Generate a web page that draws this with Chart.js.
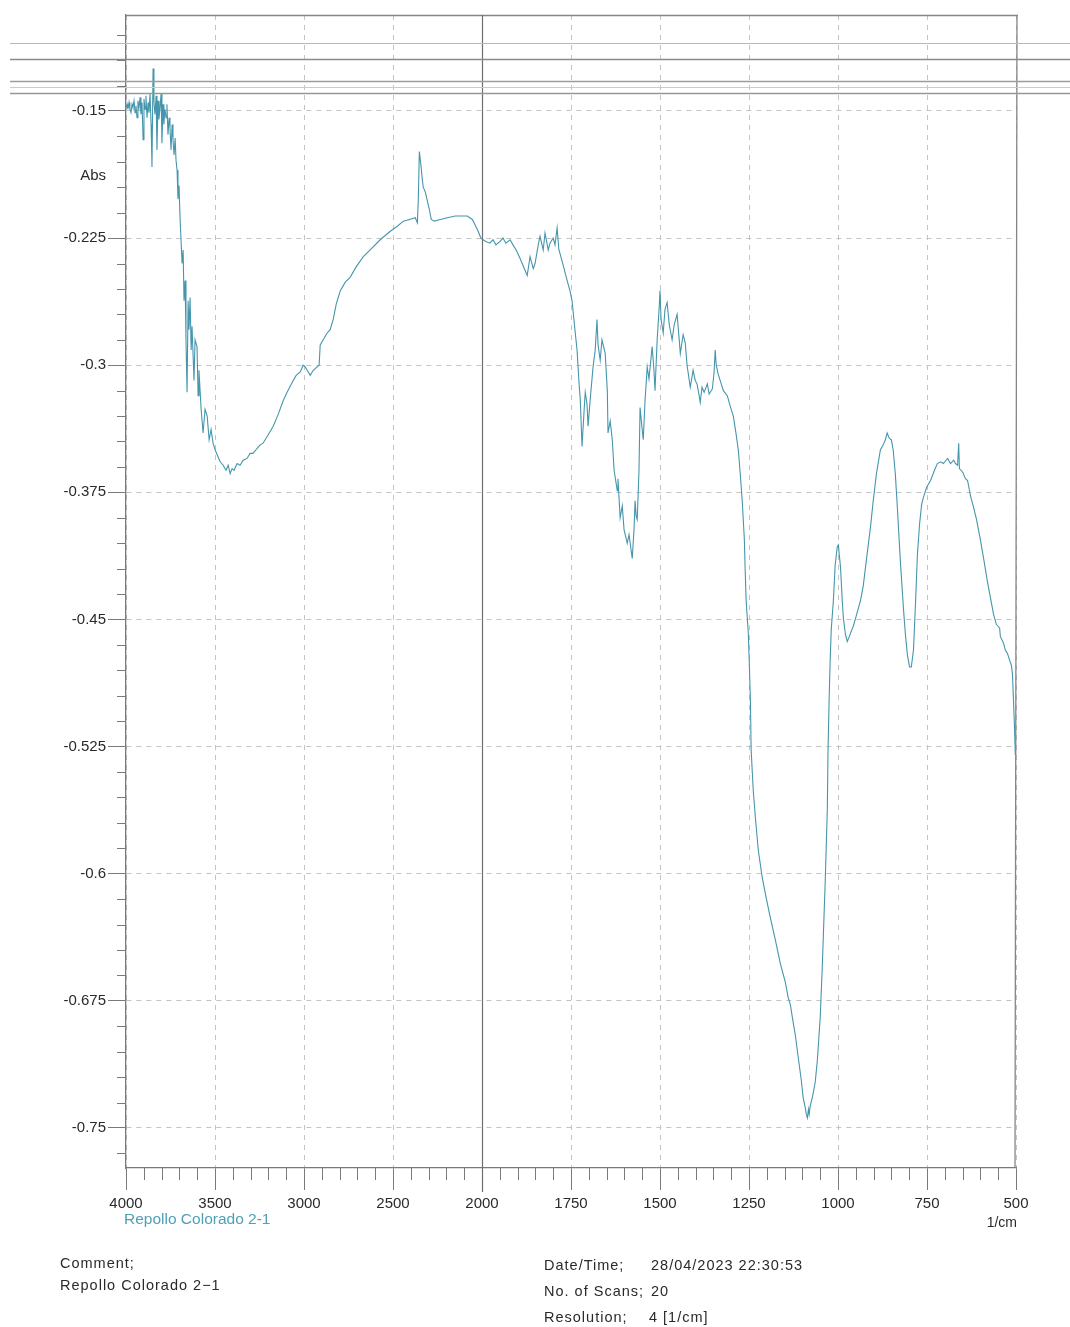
<!DOCTYPE html>
<html>
<head>
<meta charset="utf-8">
<title>Repollo Colorado 2-1</title>
<script src="https://cdn.jsdelivr.net/npm/chart.js@4.4.1/dist/chart.umd.min.js"></script>
<style>
  html, body { margin: 0; padding: 0; background: #ffffff; }
  #wrap { position: relative; width: 1070px; height: 1327px; }
  canvas { display: block; }
</style>
</head>
<body>
<div id="wrap"><canvas id="spec" width="1070" height="1327"></canvas></div>
<script>
// Wavenumbers (1/cm) of the recorded spectrum, high to low
const wavenumbers = [
  3998, 3994, 3989, 3983, 3978, 3972, 3966, 3961, 3955, 3949, 3944, 3938, 3933, 3927, 3921, 3916,
  3910, 3904, 3899, 3893, 3888, 3882, 3876, 3871, 3865, 3859, 3854, 3848, 3843, 3837, 3831, 3826,
  3820, 3815, 3809, 3803, 3798, 3792, 3787, 3781, 3775, 3770, 3764, 3758, 3753, 3747, 3741, 3736,
  3730, 3724, 3719,
  3713, 3708, 3702, 3696, 3691, 3685, 3679, 3674, 3668, 3663, 3657, 3651, 3646, 3640, 3634, 3629,
  3618, 3612, 3601, 3595, 3590, 3578, 3567, 3556, 3544, 3533, 3522, 3511, 3499, 3483, 3471, 3454,
  3438, 3426, 3415, 3404, 3393, 3376, 3359, 3342, 3320, 3303, 3286, 3263, 3246, 3230, 3201, 3173,
  3145, 3117, 3095, 3066, 3044, 3021, 3005, 2993, 2982, 2965, 2948, 2926, 2915, 2909, 2892, 2870,
  2853, 2836, 2819, 2796, 2768, 2740, 2707, 2667, 2628, 2572, 2515, 2476, 2442, 2408, 2375, 2363,
  2358, 2352, 2341, 2335, 2330, 2318, 2307, 2296, 2285, 2268, 2234, 2195, 2150, 2105, 2083, 2054,
  2026, 2006, 1997, 1989, 1978, 1969, 1961, 1949, 1941, 1933, 1921, 1913, 1904, 1893, 1885, 1873,
  1865, 1856, 1851, 1842, 1837, 1828, 1823, 1814, 1809, 1800, 1795, 1789, 1784, 1781, 1772, 1761,
  1753, 1747, 1739, 1733, 1727, 1724, 1719, 1713, 1710, 1705, 1702, 1696, 1688, 1682, 1677, 1674,
  1668, 1663, 1654, 1648, 1646, 1640, 1634, 1629, 1620, 1618, 1612, 1606, 1601, 1592, 1587, 1578,
  1573, 1570, 1567, 1564, 1559, 1556, 1550, 1547, 1542, 1536, 1531, 1522, 1517, 1514, 1508, 1502,
  1500, 1497, 1491, 1486, 1480, 1474, 1466, 1460, 1452, 1446, 1443, 1435, 1429, 1424, 1415, 1407,
  1401, 1396, 1390, 1387, 1382, 1376, 1367, 1362, 1353, 1348, 1345, 1342, 1337, 1328, 1322, 1311,
  1303, 1294, 1286, 1280, 1275, 1269, 1263, 1261, 1258, 1252, 1249, 1246, 1244, 1238, 1232, 1224,
  1213, 1202, 1190, 1176, 1162, 1148, 1140, 1134, 1128, 1120, 1112, 1103, 1098, 1092, 1089, 1086,
  1083, 1081, 1078, 1072, 1064, 1058, 1050, 1044, 1036, 1030, 1028, 1025, 1022, 1019, 1013, 1008,
  1002, 999, 993, 988, 985, 979, 974, 968, 963, 957, 949, 937, 929, 918, 909, 901,
  892, 881, 873, 867, 862, 856, 850, 845, 839, 833, 825, 816, 811, 805, 799, 794,
  788, 782, 777, 771, 765, 760, 751, 740, 729, 721, 712, 704, 692, 684, 675, 670,
  664, 661, 659, 650, 642, 636, 628, 619, 611, 600, 591, 580, 572, 563, 555, 546,
  544, 535, 530, 524, 518, 513, 510, 507, 504, 502
];

// Absorbance at each wavenumber above
const absorbance = [
  -0.148, -0.146, -0.149, -0.145, -0.149, -0.151, -0.146, -0.148, -0.144, -0.151, -0.147, -0.154, -0.144, -0.148, -0.142, -0.152,
  -0.145, -0.167, -0.143, -0.149, -0.141, -0.154, -0.145, -0.151, -0.140, -0.158, -0.183, -0.125, -0.145, -0.152, -0.141, -0.173,
  -0.144, -0.155, -0.148, -0.140, -0.169, -0.146, -0.158, -0.149, -0.154, -0.146, -0.164, -0.154, -0.160, -0.173, -0.158, -0.167,
  -0.176, -0.166, -0.179,
  -0.185, -0.202, -0.194, -0.214, -0.226, -0.240, -0.232, -0.262, -0.250, -0.285, -0.316, -0.262, -0.279, -0.260, -0.291, -0.277,
  -0.309, -0.285, -0.289, -0.318, -0.303, -0.326, -0.340, -0.326, -0.330, -0.344, -0.338, -0.346, -0.350, -0.354, -0.357, -0.359,
  -0.362, -0.359, -0.364, -0.361, -0.362, -0.358, -0.359, -0.356, -0.355, -0.352, -0.352, -0.349, -0.347, -0.346, -0.341, -0.336,
  -0.329, -0.321, -0.316, -0.310, -0.306, -0.304, -0.300, -0.301, -0.303, -0.306, -0.303, -0.301, -0.300, -0.288, -0.285, -0.281,
  -0.279, -0.273, -0.264, -0.256, -0.251, -0.248, -0.242, -0.236, -0.232, -0.226, -0.221, -0.218, -0.215, -0.214, -0.213, -0.216,
  -0.203, -0.174, -0.184, -0.191, -0.195, -0.198, -0.203, -0.208, -0.214, -0.215, -0.214, -0.213, -0.212, -0.212, -0.212, -0.214,
  -0.220, -0.225, -0.226, -0.227, -0.228, -0.226, -0.229, -0.227, -0.225, -0.228, -0.226, -0.229, -0.232, -0.237, -0.241, -0.247,
  -0.236, -0.243, -0.240, -0.229, -0.224, -0.232, -0.222, -0.232, -0.228, -0.225, -0.229, -0.219, -0.232, -0.234, -0.241, -0.250,
  -0.256, -0.262, -0.279, -0.291, -0.312, -0.320, -0.348, -0.326, -0.316, -0.323, -0.336, -0.320, -0.301, -0.291, -0.273, -0.288,
  -0.297, -0.285, -0.293, -0.315, -0.340, -0.333, -0.344, -0.362, -0.374, -0.367, -0.390, -0.383, -0.397, -0.405, -0.400, -0.414,
  -0.397, -0.380, -0.389, -0.391, -0.362, -0.325, -0.338, -0.344, -0.321, -0.301, -0.308, -0.289, -0.303, -0.315, -0.285, -0.265,
  -0.256, -0.273, -0.281, -0.267, -0.263, -0.276, -0.285, -0.276, -0.270, -0.285, -0.293, -0.282, -0.287, -0.300, -0.313, -0.303,
  -0.309, -0.311, -0.318, -0.322, -0.313, -0.316, -0.311, -0.317, -0.314, -0.304, -0.291, -0.300, -0.305, -0.311, -0.315, -0.318,
  -0.324, -0.330, -0.341, -0.350, -0.363, -0.380, -0.403, -0.419, -0.439, -0.458, -0.477, -0.498, -0.527, -0.551, -0.567, -0.586,
  -0.602, -0.614, -0.626, -0.639, -0.653, -0.664, -0.673, -0.677, -0.685, -0.695, -0.708, -0.722, -0.732, -0.738, -0.742, -0.744,
  -0.739, -0.742, -0.737, -0.732, -0.723, -0.710, -0.685, -0.654, -0.605, -0.562, -0.527, -0.498, -0.474, -0.456, -0.439, -0.418,
  -0.407, -0.406, -0.419, -0.439, -0.449, -0.459, -0.463, -0.460, -0.457, -0.454, -0.448, -0.439, -0.430, -0.411, -0.396, -0.380,
  -0.364, -0.350, -0.347, -0.344, -0.340, -0.343, -0.344, -0.350, -0.364, -0.385, -0.415, -0.444, -0.458, -0.471, -0.478, -0.478,
  -0.468, -0.439, -0.412, -0.394, -0.382, -0.378, -0.372, -0.368, -0.362, -0.358, -0.357, -0.358, -0.355, -0.358, -0.356, -0.358,
  -0.359, -0.346, -0.361, -0.363, -0.367, -0.368, -0.377, -0.384, -0.391, -0.403, -0.414, -0.428, -0.437, -0.447, -0.453, -0.455,
  -0.460, -0.464, -0.468, -0.470, -0.474, -0.477, -0.482, -0.498, -0.515, -0.530
];

// Axis labels
const xTickLabels = ['4000', '3500', '3000', '2500', '2000', '1750', '1500', '1250', '1000', '750', '500'];
const yTickValues = [-0.15, -0.225, -0.3, -0.375, -0.45, -0.525, -0.6, -0.675, -0.75];
const yTickLabels = ['-0.15', '-0.225', '-0.3', '-0.375', '-0.45', '-0.525', '-0.6', '-0.675', '-0.75'];

const seriesName = 'Repollo Colorado 2-1';
const commentLines = ['Comment;', 'Repollo Colorado 2\u22121'];
const infoRows = [
  ['Date/Time;', '28/04/2023 22:30:53'],
  ['No. of Scans;', '20'],
  ['Resolution;', '4 [1/cm]']
];

// The instrument plots 4000-2000 at 500 per division and 2000-500 at 250 per division.
function axisPos(w) {
  return w >= 2000 ? (4000 - w) / 500 : 4 + (2000 - w) / 250;
}

const FONT = '"Liberation Sans", Arial, sans-serif';
const LINE_COLOR = '#4596ac';
const GRID_COLOR = '#c4c4c4';
const AXIS_COLOR = '#7a7a7a';

const points = wavenumbers.map((w, i) => ({ x: axisPos(w), y: absorbance[i] }));

const decorPlugin = {
  id: 'decor',
  afterDraw(chart) {
    const ctx = chart.ctx;
    const xs = chart.scales.x;
    const ys = chart.scales.y;
    const area = chart.chartArea;
    ctx.save();

    // frame: top and right edges
    ctx.strokeStyle = '#858585';
    ctx.lineWidth = 1.3;
    ctx.beginPath();
    ctx.moveTo(area.left, area.top + 0.5);
    ctx.lineTo(area.right + 2, area.top + 0.5);
    ctx.moveTo(area.right + 1, area.top);
    ctx.lineTo(area.right - 1, area.bottom);
    ctx.stroke();

    // solid divider where the wavenumber scale changes
    const xd = Math.round(xs.getPixelForValue(4)) + 0.5;
    ctx.strokeStyle = '#6f6f6f';
    ctx.lineWidth = 1.2;
    ctx.beginPath();
    ctx.moveTo(xd, area.top);
    ctx.lineTo(xd, area.bottom + 24);
    ctx.stroke();

    // minor ticks
    ctx.strokeStyle = AXIS_COLOR;
    ctx.lineWidth = 1;
    ctx.beginPath();
    for (let k = 1; k < 50; k++) {
      if (k % 5 === 0) continue;
      const px = Math.round(xs.getPixelForValue(k * 0.2)) + 0.5;
      ctx.moveTo(px, area.bottom);
      ctx.lineTo(px, area.bottom + 12);
    }
    const yStep = 0.015;
    for (let v = yTickValues[0] + 3 * yStep; v > ys.min; v -= yStep) {
      const onMajor = yTickValues.some(t => Math.abs(t - v) < 1e-6);
      if (onMajor) continue;
      const py = Math.round(ys.getPixelForValue(v)) + 0.5;
      ctx.moveTo(area.left - 9, py);
      ctx.lineTo(area.left, py);
    }
    ctx.stroke();

    // horizontal scanner streaks across the upper part of the sheet
    const streaks = [[43, '#b8b8b8', 1.2], [59, '#8a8a8a', 1.6], [81, '#9c9c9c', 1.4], [87, '#cbcbcb', 1.2], [93, '#979797', 1.4]];
    streaks.forEach(([y, c, w]) => {
      ctx.strokeStyle = c;
      ctx.lineWidth = w;
      ctx.beginPath();
      ctx.moveTo(10, y + 0.5);
      ctx.lineTo(1070, y + 0.5);
      ctx.stroke();
    });

    // axis captions
    ctx.fillStyle = '#2a2a2a';
    ctx.font = '15px ' + FONT;
    ctx.textBaseline = 'middle';
    ctx.textAlign = 'right';
    ctx.fillText('Abs', 106, ys.getPixelForValue(-0.1884));
    ctx.font = '14px ' + FONT;
    ctx.fillText('1/cm', xs.getPixelForValue(10) + 1, area.bottom + 55);

    ctx.textAlign = 'left';
    ctx.fillStyle = '#4fa0b7';
    ctx.font = '15.5px ' + FONT;
    ctx.fillText(seriesName, 124, area.bottom + 52);

    // footer
    ctx.fillStyle = '#2a2a2a';
    ctx.font = '14.5px ' + FONT;
    ctx.letterSpacing = '1px';
    ctx.fillText(commentLines[0], 60, 1264);
    ctx.fillText(commentLines[1], 60, 1286);
    const rowY = [1266, 1292, 1318];
    const valX = [651, 651, 649];
    infoRows.forEach((r, i) => {
      ctx.fillText(r[0], 544, rowY[i]);
      ctx.fillText(r[1], valX[i], rowY[i]);
    });
    ctx.restore();
  }
};

new Chart(document.getElementById('spec'), {
  type: 'line',
  data: {
    datasets: [{
      label: seriesName,
      data: points,
      borderColor: LINE_COLOR,
      borderWidth: 1.1,
      pointRadius: 0,
      tension: 0,
      fill: false
    }]
  },
  options: {
    responsive: false,
    animation: false,
    devicePixelRatio: 1,
    parsing: false,
    layout: { padding: { left: 0, top: 15, right: 54, bottom: 99 } },
    plugins: {
      legend: { display: false },
      tooltip: { enabled: false }
    },
    scales: {
      x: {
        type: 'linear',
        min: 0,
        max: 10,
        afterBuildTicks: s => { s.ticks = xTickLabels.map((_, i) => ({ value: i })); },
        afterFit: s => { s.height = 60; },
        grid: {
          color: ctx => (ctx.tick && ctx.tick.value === 4) ? 'rgba(0,0,0,0)' : GRID_COLOR,
          lineWidth: 1,
          tickLength: 22,
          tickColor: AXIS_COLOR,
          tickWidth: 1
        },
        border: { color: AXIS_COLOR, width: 1.3, dash: [5, 5] },
        ticks: {
          autoSkip: false,
          maxRotation: 0,
          padding: 5,
          color: '#2a2a2a',
          font: { family: FONT, size: 15 },
          callback: (v, i) => xTickLabels[i]
        }
      },
      y: {
        type: 'linear',
        min: -0.7736,
        max: -0.0934,
        afterBuildTicks: s => { s.ticks = yTickValues.map(v => ({ value: v })); },
        afterFit: s => { s.width = 126; },
        grid: {
          color: GRID_COLOR,
          lineWidth: 1,
          tickLength: 18,
          tickColor: AXIS_COLOR,
          tickWidth: 1
        },
        border: { color: AXIS_COLOR, width: 1.3, dash: [5, 5] },
        ticks: {
          autoSkip: false,
          padding: 2,
          color: '#2a2a2a',
          font: { family: FONT, size: 15 },
          callback: (v, i) => yTickLabels[i]
        }
      }
    }
  },
  plugins: [decorPlugin]
});
</script>
</body>
</html>
